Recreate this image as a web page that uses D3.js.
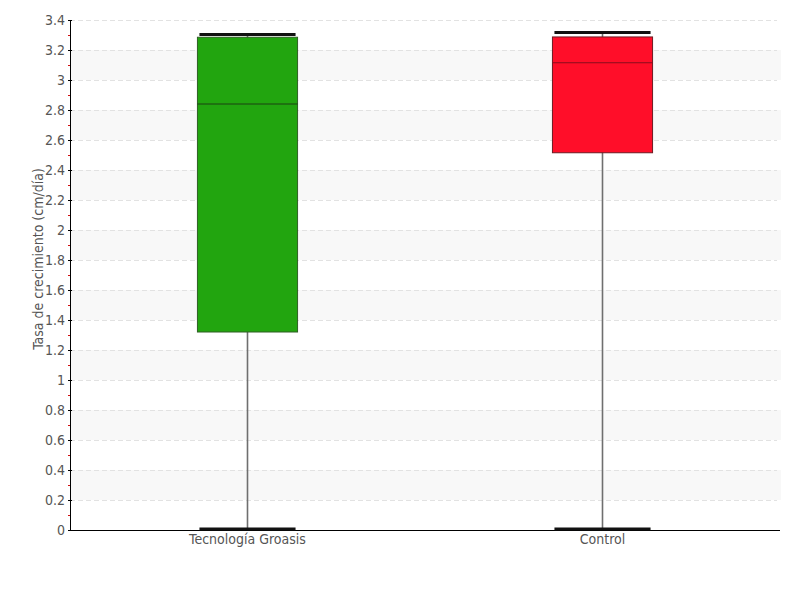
<!DOCTYPE html>
<html>
<head>
<meta charset="utf-8">
<script src="https://cdn.jsdelivr.net/npm/d3@7"></script>
<style>
  body { margin: 0; background: #fff; }
  text { font-family: "DejaVu Sans Condensed", "DejaVu Sans", sans-serif; font-stretch: condensed; fill: #555; }
</style>
</head>
<body>
<div id="container"></div>
<script>
var groups = ["Tecnología Groasis", "Control"];
var whiskerLow = [0, 0];
var q1 = [1.32, 2.515];
var medians = [2.84, 3.115];
var q3 = [3.285, 3.287];
var whiskerHigh = [3.297, 3.31];
var fills = ["#22a50f", "#ff0e29"];
var strokes = ["#2f5f24", "#6e1a22"];
var medianColors = ["#1b4212", "#8a0c1c"];
var yTicks = [0, 0.2, 0.4, 0.6, 0.8, 1, 1.2, 1.4, 1.6, 1.8, 2, 2.2, 2.4, 2.6, 2.8, 3, 3.2, 3.4];

var width = 800, height = 600;
var margin = {top: 20, right: 20, bottom: 70, left: 70};
var w = width - margin.left - margin.right;
var h = height - margin.top - margin.bottom;

var data = groups.map((g, i) => ({
    name: g, lo: whiskerLow[i], q1: q1[i], med: medians[i], q3: q3[i], hi: whiskerHigh[i],
    fill: fills[i], stroke: strokes[i], medColor: medianColors[i]
}));

var y = d3.scaleLinear().domain([0, 3.4]).range([h, 0]);
var x = d3.scaleBand().domain(groups).range([0, w]).paddingInner(0.718).paddingOuter(0.359);

var svg = d3.select("#container").append("svg")
    .attr("width", width).attr("height", height)
  .append("g")
    .attr("transform", "translate(" + margin.left + "," + margin.top + ")");

// alternating bands
var bands = [];
for (var i = 1; i < yTicks.length - 1; i += 2) bands.push([yTicks[i], yTicks[i + 1]]);
svg.append("g").selectAll("rect").data(bands).join("rect")
    .attr("x", 0).attr("width", w + 1)
    .attr("y", d => y(d[1])).attr("height", d => y(d[0]) - y(d[1]))
    .attr("fill", "#f8f8f8");

// dashed grid
svg.append("g").selectAll("line").data(yTicks.slice(1)).join("line")
    .attr("x1", 0).attr("x2", w - 3)
    .attr("y1", d => y(d) + 0.5).attr("y2", d => y(d) + 0.5)
    .attr("stroke", "#e2e2e2").attr("stroke-dasharray", "5,3");

// minor ticks
var minor = yTicks.slice(0, -1).map(d => d + 0.1);
svg.append("g").selectAll("line").data(minor).join("line")
    .attr("x1", -2).attr("x2", 0)
    .attr("y1", d => y(d) + 0.5).attr("y2", d => y(d) + 0.5)
    .attr("stroke", "#d01010");

// y axis
var yAxis = svg.append("g")
    .call(d3.axisLeft(y).tickValues(yTicks).tickFormat(d3.format("")).tickSize(2).tickPadding(3));
yAxis.select(".domain").attr("stroke", "#000").attr("d", "M0.5,0V" + (h + 0.5));
yAxis.selectAll(".tick line").attr("stroke", "#000").attr("x2", 2).attr("x1", -2);
yAxis.selectAll(".tick text").style("font-size", "14px").attr("fill", "#555");

// x axis line
svg.append("line").attr("x1", 0).attr("x2", w).attr("y1", h + 0.5).attr("y2", h + 0.5)
    .attr("stroke", "#000");

// x labels
svg.append("g").selectAll("text").data(groups).join("text")
    .attr("x", d => x(d) + x.bandwidth() / 2)
    .attr("y", h + 14)
    .attr("text-anchor", "middle")
    .style("font-size", "14px")
    .text(d => d);

// y title
svg.append("text")
    .attr("transform", "translate(-27," + (h / 2 - 16) + ")rotate(-90)")
    .attr("text-anchor", "middle")
    .style("font-size", "14px")
    .text("Tasa de crecimiento (cm/día)");

// boxes
var box = svg.append("g").selectAll("g").data(data).join("g");
var cx = d => x(d.name) + x.bandwidth() / 2;

box.append("line")
    .attr("x1", cx).attr("x2", cx)
    .attr("y1", d => y(d.hi)).attr("y2", d => y(d.lo))
    .attr("stroke", "#6f6f6f").attr("stroke-width", 1.6);

box.append("rect")
    .attr("x", d => x(d.name)).attr("width", x.bandwidth())
    .attr("y", d => y(d.q3)).attr("height", d => y(d.q1) - y(d.q3))
    .attr("fill", d => d.fill).attr("stroke", d => d.stroke).attr("stroke-width", 1);

box.append("line")
    .attr("x1", d => x(d.name)).attr("x2", d => x(d.name) + x.bandwidth())
    .attr("y1", d => y(d.med)).attr("y2", d => y(d.med))
    .attr("stroke", d => d.medColor).attr("stroke-width", 1.2);

// caps
["hi", "lo"].forEach(k => {
    box.append("line")
        .attr("x1", d => x(d.name) + 2).attr("x2", d => x(d.name) + x.bandwidth() - 2)
        .attr("y1", d => y(d[k]) - 1).attr("y2", d => y(d[k]) - 1)
        .attr("stroke", "#111").attr("stroke-width", 3);
});
</script>
</body>
</html>
